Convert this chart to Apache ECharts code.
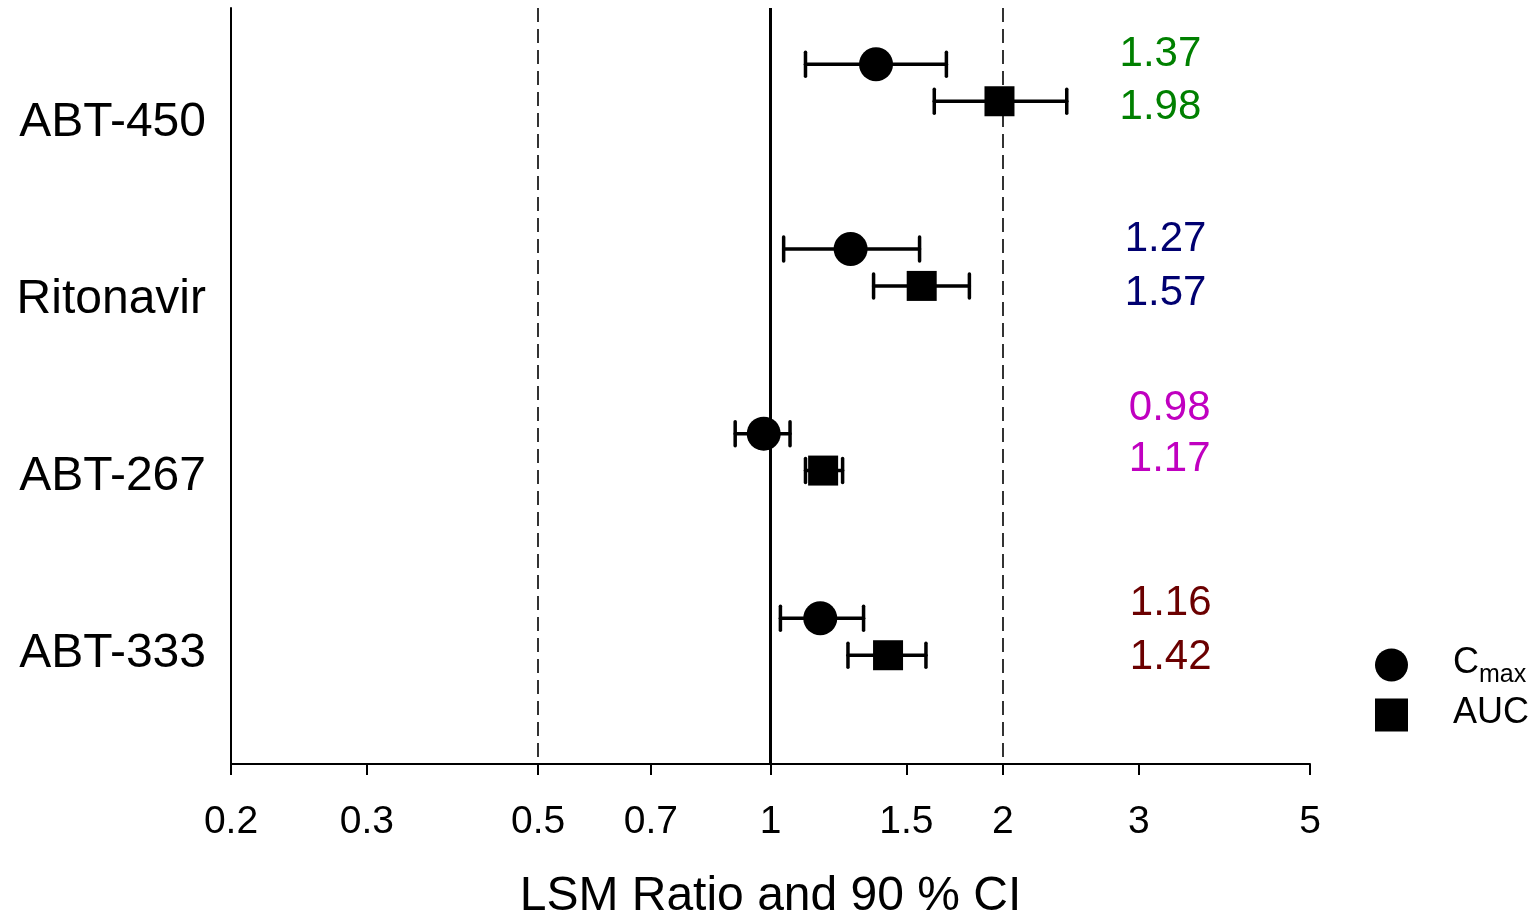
<!DOCTYPE html>
<html>
<head>
<meta charset="utf-8">
<script src="https://cdn.jsdelivr.net/npm/echarts@6/dist/echarts.min.js"></script>
<style>
  html, body { margin: 0; padding: 0; background: #fff; }
  #chart { width: 1535px; height: 918px; }
</style>
</head>
<body>
<div id="chart"></div>
<script>
// data
var drugs = ['ABT-450', 'Ritonavir', 'ABT-267', 'ABT-333'];
var cmaxRatio = [1.37, 1.27, 0.98, 1.16];
var cmaxLow = [1.11, 1.04, 0.90, 1.03];
var cmaxHigh = [1.69, 1.56, 1.06, 1.32];
var aucRatio = [1.98, 1.57, 1.17, 1.42];
var aucLow = [1.63, 1.36, 1.11, 1.26];
var aucHigh = [2.42, 1.81, 1.24, 1.59];
var xTicks = [0.2, 0.3, 0.5, 0.7, 1, 1.5, 2, 3, 5];
var refLines = [0.5, 1, 2];
var drugColors = ['#008000', '#000070', '#c000c0', '#6b0000'];

// layout (row units: one row per drug, Cmax on the row, AUC just below)
var aucShift = 0.2;
var nameRows = [0.314, 1.277, 2.236, 3.194];
var textRows = [[-0.055, 0.232], [0.948, 1.24], [1.862, 2.138], [2.918, 3.21]];
var textX = [3.2, 3.25, 3.29, 3.3];

var FONT = '"Liberation Sans", Arial, sans-serif';

var barData = [];
var cmaxData = [];
var aucData = [];
var textData = [];
drugs.forEach(function (d, i) {
  barData.push([cmaxLow[i], cmaxHigh[i], i]);
  barData.push([aucLow[i], aucHigh[i], i + aucShift]);
  cmaxData.push([cmaxRatio[i], i]);
  aucData.push([aucRatio[i], i + aucShift]);
  textData.push({ value: [textX[i], textRows[i][0], cmaxRatio[i].toFixed(2)], label: { color: drugColors[i] } });
  textData.push({ value: [textX[i], textRows[i][1], aucRatio[i].toFixed(2)], label: { color: drugColors[i] } });
});

var chart = echarts.init(document.getElementById('chart'));

var option = {
  backgroundColor: '#fff',
  animation: false,
  textStyle: { fontFamily: FONT },
  grid: { left: 231, right: 225, top: 8, bottom: 154, outerBoundsMode: 'none', containLabel: false },
  legend: {
    orient: 'vertical',
    left: 1375,
    top: 645,
    padding: 0,
    itemWidth: 33,
    itemHeight: 33,
    itemGap: 7,
    data: ['Cmax', 'AUC'],
    formatter: function (name) {
      return name === 'Cmax' ? '{b|C}{s|max}' : '{b|' + name + '}';
    },
    textStyle: {
      color: '#000',
      fontFamily: FONT,
      padding: [0, 0, 0, 40],
      rich: {
        b: { fontSize: 36, fontFamily: FONT, color: '#000', lineHeight: 40, verticalAlign: 'top' },
        s: { fontSize: 25, fontFamily: FONT, color: '#000', lineHeight: 26, padding: [18, 0, 0, 0], verticalAlign: 'top' }
      }
    }
  },
  xAxis: {
    type: 'log',
    logBase: 10,
    min: 0.2,
    max: 5,
    name: 'LSM Ratio and 90 % CI',
    nameLocation: 'middle',
    nameGap: 109,
    nameTextStyle: { fontSize: 48, color: '#000', fontFamily: FONT },
    axisLine: { show: true, onZero: false, lineStyle: { color: '#000', width: 2 } },
    axisTick: { show: true, length: 11, lineStyle: { color: '#000', width: 2 }, customValues: xTicks },
    axisLabel: { fontSize: 39, color: '#000', margin: 39, fontFamily: FONT, customValues: xTicks,
      formatter: function (v) { return String(+v.toPrecision(3)); } },
    splitLine: { show: false },
    minorTick: { show: false }
  },
  yAxis: {
    type: 'value',
    inverse: true,
    min: -0.305,
    max: 3.789,
    axisLine: { show: true, onZero: false, lineStyle: { color: '#000', width: 2 } },
    axisTick: { show: false },
    splitLine: { show: false },
    axisLabel: {
      fontSize: 48,
      color: '#000',
      margin: 25,
      fontFamily: FONT,
      customValues: nameRows,
      formatter: function (v) {
        var best = 0;
        nameRows.forEach(function (r, k) { if (Math.abs(r - v) < Math.abs(nameRows[best] - v)) best = k; });
        return drugs[best];
      }
    }
  },
  series: [
    {
      name: 'ci',
      type: 'custom',
      data: barData,
      encode: { x: [0, 1], y: 2 },
      renderItem: function (params, api) {
        var y = api.value(2);
        var a = api.coord([api.value(0), y]);
        var b = api.coord([api.value(1), y]);
        var h = 12;
        var st = { stroke: '#000', lineWidth: 3.5, lineCap: 'round' };
        return {
          type: 'group',
          children: [
            { type: 'line', shape: { x1: a[0], y1: a[1], x2: b[0], y2: b[1] }, style: st },
            { type: 'line', shape: { x1: a[0], y1: a[1] - h, x2: a[0], y2: a[1] + h }, style: st },
            { type: 'line', shape: { x1: b[0], y1: b[1] - h, x2: b[0], y2: b[1] + h }, style: st }
          ]
        };
      },
      markLine: {
        silent: true,
        symbol: ['none', 'none'],
        label: { show: false },
        data: refLines.map(function (v) {
          return {
            xAxis: v,
            lineStyle: v === 1
              ? { color: '#000', width: 3, type: 'solid' }
              : { color: '#000', width: 1.6, type: [14, 7] }
          };
        })
      }
    },
    {
      name: 'Cmax',
      type: 'scatter',
      symbol: 'circle',
      symbolSize: 34,
      itemStyle: { color: '#000', opacity: 1 },
      data: cmaxData,
      z: 3
    },
    {
      name: 'AUC',
      type: 'scatter',
      symbol: 'rect',
      symbolSize: 30,
      itemStyle: { color: '#000', opacity: 1, borderRadius: 2 },
      data: aucData,
      z: 3
    },
    {
      name: 'values',
      type: 'scatter',
      symbolSize: 0,
      itemStyle: { opacity: 1 },
      data: textData,
      label: {
        show: true,
        position: 'inside',
        fontSize: 42,
        fontFamily: FONT,
        formatter: function (p) { return p.value[2]; }
      }
    }
  ]
};

chart.setOption(option);
</script>
</body>
</html>
